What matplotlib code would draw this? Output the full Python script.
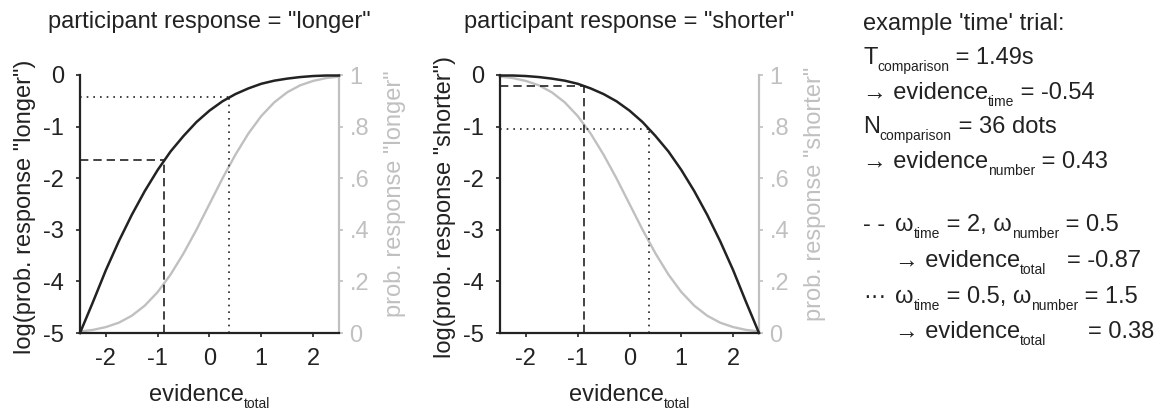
import matplotlib
matplotlib.use('Agg')
from matplotlib import pyplot as plt

plt.rcParams['font.family'] = ['Liberation Sans', 'DejaVu Sans']
plt.rcParams['axes.unicode_minus'] = False

# evidence axis samples
evidence = [-2.5, -2.25, -2.0, -1.75, -1.5, -1.25, -1.0, -0.75, -0.5, -0.25, 0.0,
            0.25, 0.5, 0.75, 1.0, 1.25, 1.5, 1.75, 2.0, 2.25, 2.5]

# response "longer"
prob_longer = [0.006, 0.012, 0.023, 0.040, 0.067, 0.106, 0.159, 0.227, 0.309, 0.401, 0.500,
               0.599, 0.691, 0.773, 0.841, 0.894, 0.933, 0.960, 0.977, 0.988, 0.994]
logp_longer = [-5.0, -4.40, -3.78, -3.22, -2.71, -2.25, -1.84, -1.48, -1.18, -0.91, -0.69,
               -0.51, -0.37, -0.26, -0.17, -0.11, -0.07, -0.04, -0.02, -0.01, -0.01]

# response "shorter"
prob_shorter = [0.994, 0.988, 0.977, 0.960, 0.933, 0.894, 0.841, 0.773, 0.691, 0.599, 0.500,
                0.401, 0.309, 0.227, 0.159, 0.106, 0.067, 0.040, 0.023, 0.012, 0.006]
logp_shorter = [-0.01, -0.01, -0.02, -0.04, -0.07, -0.11, -0.17, -0.26, -0.37, -0.51, -0.69,
                -0.91, -1.18, -1.48, -1.84, -2.25, -2.71, -3.22, -3.78, -4.40, -5.0]

# example trial: evidence_total for the two weightings, and log prob there
ev_dashed, ev_dotted = -0.87, 0.38
marks_longer = [-1.65, -0.43]
marks_shorter = [-0.21, -1.04]

left_ticks = [0, -1, -2, -3, -4, -5]
right_ticks = [0, 0.2, 0.4, 0.6, 0.8, 1.0]
right_labels = ['0', '.2', '.4', '.6', '.8', '1']
x_ticks = [-2, -1, 0, 1, 2]

W, H = 1169, 412
GRAY = '#c0c0c0'
INK = '#222222'
FS = 17
SUB = 10

fig = plt.figure(figsize=(W / 100, H / 100), dpi=100)
renderer = fig.canvas.get_renderer()


def rich(x, y, parts, size=FS, center=False):
    """ 文字 + 下标; parts: (text, is_sub, abs_x or None); x, y in px from top-left """
    items = []
    cx = x
    for s, sub, ax_ in parts:
        if ax_ is not None:
            cx = ax_
        yy = y + 7 if sub else y
        t = fig.text(cx / W, 1 - yy / H, s, fontsize=SUB if sub else size,
                     ha='left', va='baseline', color=INK)
        w = t.get_window_extent(renderer).width
        items.append((t, cx))
        cx += w
    if center:
        shift = (cx - x) / 2
        for t, px in items:
            t.set_x((px - shift) / W)


def panel(x0, prob, logp, marks, word):
    ax = fig.add_axes([x0 / W, (H - 333) / H, 259 / W, 258 / H])
    axr = ax.twinx()
    ax.set_zorder(axr.get_zorder() + 1)
    ax.patch.set_visible(False)

    axr.plot(evidence, prob, color=GRAY, lw=1.7, clip_on=False)
    ax.plot(evidence, logp, color=INK, lw=1.8, clip_on=False)

    ax.plot([-2.5, ev_dashed], [marks[0], marks[0]], color=INK, lw=1.2, ls=(0, (5, 3)))
    ax.plot([ev_dashed, ev_dashed], [-5, marks[0]], color=INK, lw=1.2, ls=(0, (5, 3)))
    ax.plot([-2.5, ev_dotted], [marks[1], marks[1]], color=INK, lw=1.2, ls=(0, (1, 3)))
    ax.plot([ev_dotted, ev_dotted], [-5, marks[1]], color=INK, lw=1.2, ls=(0, (1, 3)))

    ax.set_xlim(-2.5, 2.5)
    ax.set_ylim(-5, 0)
    axr.set_ylim(0, 1)
    ax.set_xticks(x_ticks)
    ax.set_xticklabels([str(t) for t in x_ticks])
    ax.set_yticks(left_ticks)
    ax.set_yticklabels([str(t) for t in left_ticks])
    axr.set_yticks(right_ticks)
    axr.set_yticklabels(right_labels)

    for s in ['top', 'right']:
        ax.spines[s].set_visible(False)
    for s in ['top', 'left', 'bottom']:
        axr.spines[s].set_visible(False)
    ax.spines['left'].set_linewidth(1.6)
    ax.spines['bottom'].set_linewidth(1.6)
    ax.spines['left'].set_color(INK)
    ax.spines['bottom'].set_color(INK)
    axr.spines['right'].set_linewidth(1.6)
    axr.spines['right'].set_color(GRAY)

    ax.tick_params(axis='y', direction='out', length=3, width=1.2, labelsize=FS, pad=8.5,
                   colors=INK)
    ax.tick_params(axis='x', direction='out', length=3, width=1.2, labelsize=FS, pad=8,
                   colors=INK)
    axr.tick_params(direction='out', length=3, width=1.2, labelsize=FS, pad=4.5,
                    colors=GRAY, labelcolor=GRAY)

    ax.set_ylabel('log(prob. response "%s")' % word, fontsize=FS, color=INK)
    ax.yaxis.set_label_coords(-0.168, 0.49)
    axr.set_ylabel('prob. response "%s"' % word, fontsize=FS, color=GRAY, rotation=90)
    axr.yaxis.set_label_coords(1.175, 0.54)

    cx = x0 + 129.5
    fig.text(cx / W, 1 - 28 / H, 'participant response = "%s"' % word, fontsize=FS,
             ha='center', va='baseline', color=INK)
    rich(cx, 401, [('evidence', False, None), ('total', True, None)], center=True)
    return ax


panel(80, prob_longer, logp_longer, marks_longer, 'longer')
panel(500, prob_shorter, logp_shorter, marks_shorter, 'shorter')

# text block on the right
rich(863, 30, [("example 'time' trial:", False, None)])
rich(863, 64, [('T', False, None), ('comparison', True, None), (' = 1.49s', False, None)])
rich(863, 99, [('→ evidence', False, None), ('time', True, None), (' = -0.54', False, None)])
rich(863, 133, [('N', False, None), ('comparison', True, None), (' = 36 dots', False, None)])
rich(863, 168, [('→ evidence', False, None), ('number', True, None), (' = 0.43', False, None)])
rich(863, 231, [('- -', False, None), ('ω', False, 895), ('time', True, None),
                (' = 2, ω', False, None), ('number', True, None), (' = 0.5', False, None)])
rich(895, 267, [('→ evidence', False, None), ('total', True, None), ('= -0.87', False, 1067)])
rich(863, 303, [('···', False, None), ('ω', False, 895), ('time', True, None),
                (' = 0.5, ω', False, None), ('number', True, None), (' = 1.5', False, None)])
rich(895, 338, [('→ evidence', False, None), ('total', True, None), ('= 0.38', False, 1088)])

fig.savefig('out.png', dpi=100)
